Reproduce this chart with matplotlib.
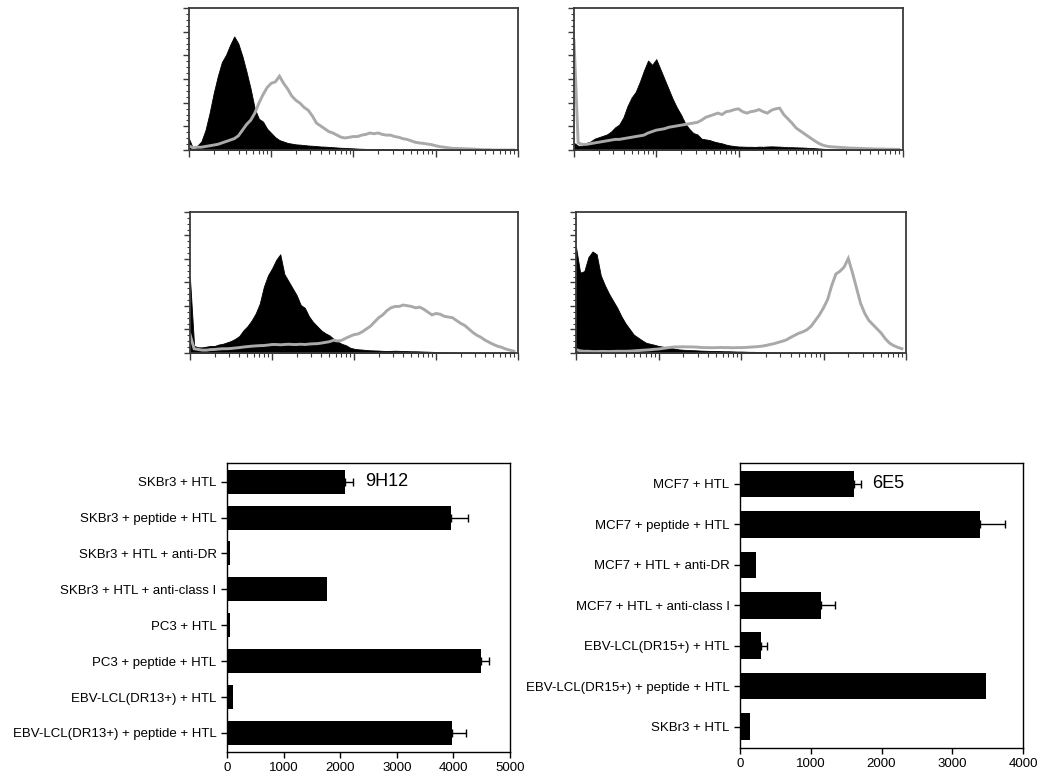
import numpy as np
import matplotlib
matplotlib.use("Agg")
import matplotlib.pyplot as plt
from matplotlib.ticker import LogLocator, NullFormatter, MultipleLocator

plt.rcParams["font.family"] = ["Liberation Sans", "DejaVu Sans"]

# Histogramas de citometria: 80 canais em escala log (4 décadas), altura em % do eixo
N_BINS = 80
DECADAS = 4

hist1_preto = [8, 1, 3, 6, 14, 26, 40, 52, 62, 67, 74, 80, 75, 66, 55, 43, 29, 22, 20, 15,
               12, 9, 7, 6, 5, 4.5, 4, 3.8, 3.5, 3.2, 3, 2.8, 2.5, 2.4, 2.2, 2, 1.8, 1.6, 1.5, 1.3,
               1.2, 1.0, 0.9, 0.8, 0.8, 0.7, 0.6, 0.6, 0.5, 0.5, 0.5, 0.5, 0.5, 0.5, 0.5, 0.5, 0.5, 0.5, 0.5, 0.5,
               0.3, 0.3, 0.3, 0.3, 0.3, 0.3, 0.3, 0.3, 0.3, 0.3, 0, 0, 0, 0, 0, 0, 0, 0, 0, 0]
hist1_cinza = [3, 1.5, 2, 2, 2.5, 3, 3.5, 4, 5, 6, 7, 8, 10, 14, 18, 21, 26, 33, 39, 44,
               47, 48, 52, 47, 43, 38, 35, 33, 30, 28, 24, 19, 17, 15, 13, 12, 10.5, 9, 8.5, 9,
               9.5, 9.5, 10.5, 11, 12, 11.5, 12, 11, 10.5, 10.5, 9.5, 9, 8, 7.5, 6.5, 5.5, 5, 4.7, 4.2, 3.8,
               3, 2.4, 2, 1.6, 1.2, 1.1, 1.0, 0.9, 0.8, 0.7, 0.5, 0.3, 0.2, 0.2, 0, 0, 0, 0, 0, 0]

hist2_preto = [5, 3, 3, 5, 6, 8, 9, 10, 11, 13, 16, 18, 23, 31, 37, 41, 48, 56, 63, 60,
               64, 57, 50, 43, 36, 30, 25, 19, 15, 12, 11, 8, 7.5, 7, 6, 5.3, 4.7, 3.8, 3.2, 2.8,
               2.5, 2.4, 2.3, 2.3, 2.2, 2.4, 2.3, 2.5, 2.6, 2.5, 2.4, 2.2, 2.0, 2.0, 1.9, 1.8, 1.7, 1.5, 1.4, 1.2,
               1.0, 0.8, 0.6, 0.5, 0.5, 0.4, 0.4, 0.3, 0.3, 0.3, 0.3, 0.3, 0.3, 0.3, 0.3, 0.3, 0.3, 0.3, 0.3, 0.3]
hist2_cinza = [77, 5, 4, 4, 4.5, 5, 5.5, 6, 6.5, 7, 7.5, 7.5, 8, 8.5, 9, 9.5, 10, 10.5, 12, 13,
               14, 14.5, 15, 16, 16.5, 17, 17.5, 18, 18.5, 19, 19.5, 21, 23, 24, 25, 26, 25, 27, 27.5, 28.5,
               29, 27, 26, 27, 27.5, 28.5, 27, 26, 28, 29, 29.5, 25, 22, 19, 15.5, 13.5, 11.5, 9.5, 7.5, 5.6,
               4, 3, 2.4, 2.2, 2, 1.8, 1.6, 1.4, 1.3, 1.2, 1.1, 1.0, 0.9, 0.8, 0.7, 0.7, 0.6, 0.6, 0.5, 0.5]

hist3_preto = [52, 5, 4, 4, 4.5, 5, 5, 6, 6.5, 7.5, 8.5, 10, 12, 16, 19, 23, 28, 35, 47, 55,
               60, 66, 70, 56, 51, 46, 41, 34, 32, 26, 22, 19, 16, 14, 12.5, 10, 8, 6.5, 5.5, 3.8,
               3, 2.6, 2.4, 2.1, 1.9, 1.8, 1.7, 1.5, 1.4, 1.5, 1.6, 1.5, 1.4, 1.3, 1.2, 1.2, 1.1, 1.0, 0.9, 0.8,
               0.7, 0.5, 0.5, 0.4, 0.4, 0.3, 0.3, 0.3, 0.3, 0.3, 0.3, 0.3, 0.3, 0.3, 0.3, 0.3, 0.3, 0.3, 0.3, 0.3]
hist3_cinza = [13, 3, 2.5, 2, 2, 2.4, 2.5, 2.8, 3, 3, 3.2, 3.5, 3.8, 4.2, 4.5, 4.8, 5, 5.2, 5.3, 5.6,
               6, 6, 5.8, 6, 6.2, 6, 6, 6.2, 6, 6.3, 6.5, 6.6, 7, 7.5, 8, 9, 8.5, 9, 10.5, 11.8,
               13, 13.5, 15, 17, 19, 22, 25, 27, 30, 32, 33, 33, 34, 33.5, 33, 32, 32.5, 31, 29, 27,
               28, 27.5, 26, 25.5, 25, 23, 21, 19.5, 17, 14.5, 12.5, 11, 9, 7.5, 6, 4.8, 4, 2.8, 2, 1.2]

hist4_preto = [75, 57, 58, 68, 72, 70, 55, 48, 42, 37, 32, 26, 21, 17, 13, 11, 9, 7.2, 6.5, 5.8,
               5, 4.5, 4, 3.5, 3, 2.5, 2.3, 2.1, 2, 1.9, 1.7, 1.6, 1.5, 1.4, 1.4, 1.3, 1.2, 1.2, 1.1, 1.0,
               1.0, 0.9, 0.8, 0.8, 0.7, 0.6, 0.6, 0.5, 0.5, 0.3, 0.3, 0.3, 0.3, 0.3, 0.3, 0.3, 0.3, 0.3, 0.3, 0.3,
               0.3, 0.3, 0.3, 0.3, 0.3, 0.3, 0.3, 0.3, 0.3, 0.3, 0.3, 0.3, 0.3, 0.3, 0.3, 0.3, 0.3, 0.3, 0.3, 0.3]
hist4_cinza = [2.4, 1.5, 1.2, 1.2, 1.0, 1.0, 1.1, 1.1, 1.0, 1.1, 1.2, 1.2, 1.2, 1.3, 1.5, 1.7, 1.9, 2.1, 2.3, 2.6,
               2.8, 3.2, 3.6, 4, 4.3, 4.3, 4.4, 4.3, 4.3, 4.2, 4, 3.8, 3.8, 3.7, 3.8, 3.9, 3.8, 3.8, 3.7, 3.8,
               3.8, 3.9, 4.1, 4.3, 4.5, 4.8, 5.3, 6, 6.6, 7.5, 8.3, 9.3, 11, 12.5, 14, 15, 16.5, 19, 23, 27,
               32, 38, 48, 56, 58, 61, 67, 57, 46, 35, 28, 23, 20, 17, 14, 10, 7, 5.2, 4, 3]

# Gráficos de barras
rotulos_9h12 = ["SKBr3 + HTL", "SKBr3 + peptide + HTL", "SKBr3 + HTL + anti-DR",
                "SKBr3 + HTL + anti-class I", "PC3 + HTL", "PC3 + peptide + HTL",
                "EBV-LCL(DR13+) + HTL", "EBV-LCL(DR13+) + peptide + HTL"]
valores_9h12 = [2090, 3950, 60, 1770, 60, 4480, 105, 3975]
erros_9h12 = [130, 310, 0, 0, 0, 150, 0, 250]

rotulos_6e5 = ["MCF7 + HTL", "MCF7 + peptide + HTL", "MCF7 + HTL + anti-DR",
               "MCF7 + HTL + anti-class I", "EBV-LCL(DR15+) + HTL",
               "EBV-LCL(DR15+) + peptide + HTL", "SKBr3 + HTL"]
valores_6e5 = [1615, 3390, 220, 1140, 300, 3480, 140]
erros_6e5 = [90, 360, 0, 200, 75, 0, 0]

COR_CINZA = "#a9a9a9"
COR_MOLDURA = "#3a3a3a"


def desenhar_histograma(ax, preto, cinza):
    # um canal a cada 0.05 década, a partir de 10^0
    canais = 10 ** (np.arange(N_BINS) * DECADAS / N_BINS)
    preto = np.asarray(preto, dtype=float)
    cinza = np.asarray(cinza, dtype=float)
    ax.fill_between(canais, 0, preto, color="black", lw=0.6, edgecolor="black")
    ax.plot(canais, cinza, color=COR_CINZA, lw=2.1, solid_joinstyle="miter")
    ax.set_xscale("log")
    ax.set_xlim(1, 10 ** DECADAS)
    ax.set_ylim(0, 100)
    ax.xaxis.set_major_locator(LogLocator(base=10, numticks=10))
    ax.xaxis.set_minor_locator(LogLocator(base=10, subs=np.arange(2, 10), numticks=20))
    ax.xaxis.set_major_formatter(NullFormatter())
    ax.xaxis.set_minor_formatter(NullFormatter())
    ax.yaxis.set_major_locator(MultipleLocator(100 / 6))
    ax.yaxis.set_minor_locator(MultipleLocator(100 / 24))
    ax.yaxis.set_major_formatter(NullFormatter())
    ax.tick_params(axis="x", which="major", direction="out", length=5, width=1, color=COR_MOLDURA)
    ax.tick_params(axis="x", which="minor", direction="out", length=3, width=0.8, color=COR_MOLDURA)
    ax.tick_params(axis="y", which="major", direction="out", length=4, width=1, color=COR_MOLDURA)
    ax.tick_params(axis="y", which="minor", direction="out", length=2.5, width=0.8, color=COR_MOLDURA)
    for s in ax.spines.values():
        s.set_color(COR_MOLDURA)
        s.set_linewidth(1.3)


def desenhar_barras(ax, rotulos, valores, erros, xmax, titulo, x_titulo, altura):
    y = np.arange(len(rotulos))
    ax.barh(y, valores, height=altura, color="black")
    idx = [i for i, e in enumerate(erros) if e > 0]
    ax.errorbar([valores[i] for i in idx], [y[i] for i in idx],
                xerr=[[0] * len(idx), [erros[i] for i in idx]],
                fmt="none", ecolor="black", elinewidth=1, capsize=3, capthick=1)
    ax.set_yticks(y)
    ax.set_yticklabels(rotulos, fontsize=9.5)
    ax.set_ylim(len(rotulos) - 0.47, -0.52)
    ax.set_xlim(0, xmax)
    ax.set_xticks(np.arange(0, xmax + 1, 1000))
    ax.tick_params(axis="both", direction="out", length=4, width=1, labelsize=9.5)
    for s in ax.spines.values():
        s.set_linewidth(1)
    ax.text(x_titulo, 0, titulo, fontsize=13, va="center", ha="left")


fig = plt.figure(figsize=(10.5, 7.79), dpi=100)

eixos_hist = [
    (fig.add_axes([0.180, 0.8074, 0.3133, 0.1823]), hist1_preto, hist1_cinza),
    (fig.add_axes([0.5467, 0.8074, 0.3133, 0.1823]), hist2_preto, hist2_cinza),
    (fig.add_axes([0.181, 0.5469, 0.3124, 0.181]), hist3_preto, hist3_cinza),
    (fig.add_axes([0.5486, 0.5469, 0.3143, 0.181]), hist4_preto, hist4_cinza),
]
for ax, preto, cinza in eixos_hist:
    desenhar_histograma(ax, preto, cinza)

ax_b1 = fig.add_axes([0.2162, 0.0347, 0.2695, 0.371])
desenhar_barras(ax_b1, rotulos_9h12, valores_9h12, erros_9h12, 5000, "9H12", 2440, 0.67)

ax_b2 = fig.add_axes([0.7048, 0.0398, 0.2695, 0.3659])
desenhar_barras(ax_b2, rotulos_6e5, valores_6e5, erros_6e5, 4000, "6E5", 1870, 0.66)

fig.savefig("out.png", dpi=100)
